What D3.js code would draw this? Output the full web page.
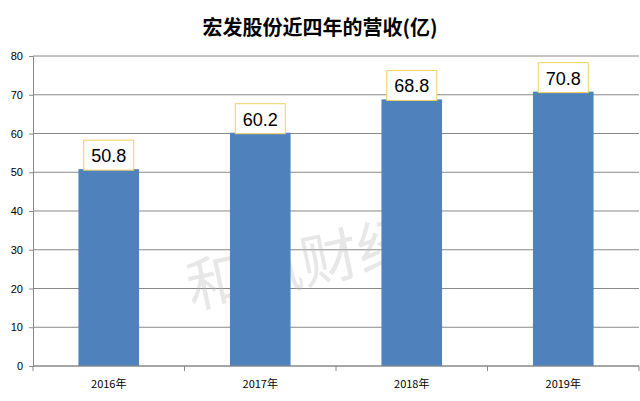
<!DOCTYPE html>
<html><head><meta charset="utf-8">
<script src="https://cdn.jsdelivr.net/npm/d3@7"></script>
<style>body{margin:0;background:#fff}</style>
</head><body>
<svg width="640" height="401"></svg>
<script>
const years = ['2016年', '2017年', '2018年', '2019年'];
const revenue = [50.8, 60.2, 68.8, 70.8];
const yTicks = [0, 10, 20, 30, 40, 50, 60, 70, 80];

const svg = d3.select('svg');
const margin = { top: 56, right: 0, bottom: 35, left: 33 };
const width = 640, height = 401;

const x = d3.scaleBand().domain(years).range([margin.left, width - 1]).paddingInner(0.6).paddingOuter(0.3);
const y = d3.scaleLinear().domain([0, 80]).range([height - margin.bottom, margin.top]);

svg.append('text')
  .attr('x', 320).attr('y', 35)
  .attr('text-anchor', 'middle')
  .style('font-family', '"Noto Sans CJK SC", serif')
  .style('font-weight', 'bold').style('font-size', '20px')
  .text('宏发股份近四年的营收(亿)');

// grid
svg.append('g').selectAll('line').data(yTicks).join('line')
  .attr('x1', margin.left).attr('x2', width - 1)
  .attr('y1', d => y(d)).attr('y2', d => y(d))
  .attr('stroke', '#888').attr('stroke-width', 1);

svg.append('g')
  .attr('transform', `translate(${margin.left},0)`)
  .call(d3.axisLeft(y).tickValues(yTicks).tickSize(4).tickPadding(6))
  .call(g => g.selectAll('line,path').attr('stroke', '#888'))
  .call(g => g.selectAll('text').style('font-size', '11px').style('font-family', 'Liberation Sans, sans-serif').attr('fill', '#000'));

// watermark
svg.append('text')
  .attr('x', 300).attr('y', 285)
  .attr('text-anchor', 'middle')
  .attr('transform', 'rotate(-12,300,260)')
  .style('font-family', '"Noto Sans CJK SC"').style('font-size', '58px')
  .attr('fill', '#bbb').attr('opacity', 0.35)
  .text('和讯财经');

svg.append('g').selectAll('rect').data(revenue).join('rect')
  .attr('x', (d, i) => x(years[i]))
  .attr('width', x.bandwidth())
  .attr('y', d => y(d))
  .attr('height', d => y(0) - y(d))
  .attr('fill', '#4f81bd');

// x axis
const xa = svg.append('g').attr('transform', `translate(0,${y(0)})`);
xa.append('line').attr('x1', margin.left).attr('x2', width - 1).attr('stroke', '#888');
const step = (width - 1 - margin.left) / years.length;
xa.selectAll('.tk').data(d3.range(years.length + 1)).join('line')
  .attr('x1', i => margin.left + i * step).attr('x2', i => margin.left + i * step)
  .attr('y1', 0).attr('y2', 5).attr('stroke', '#888');
xa.selectAll('text').data(years).join('text')
  .attr('x', d => x(d) + x.bandwidth() / 2).attr('y', 22)
  .attr('text-anchor', 'middle')
  .style('font-family', '"Noto Sans CJK SC", sans-serif').style('font-size', '11px')
  .text(d => d);

// value labels
const lab = svg.append('g').selectAll('g').data(revenue).join('g')
  .attr('transform', (d, i) => `translate(${x(years[i]) + x.bandwidth() / 2},${y(d) + 1})`);
lab.append('rect')
  .attr('x', -25).attr('y', -30).attr('width', 50).attr('height', 30)
  .attr('fill', '#fff').attr('stroke', '#f0d060').attr('stroke-width', 1);
lab.append('text')
  .attr('y', -8).attr('text-anchor', 'middle')
  .style('font-family', 'Liberation Sans, sans-serif').style('font-size', '18px')
  .text(d => d.toFixed(1));
</script>
</body></html>
